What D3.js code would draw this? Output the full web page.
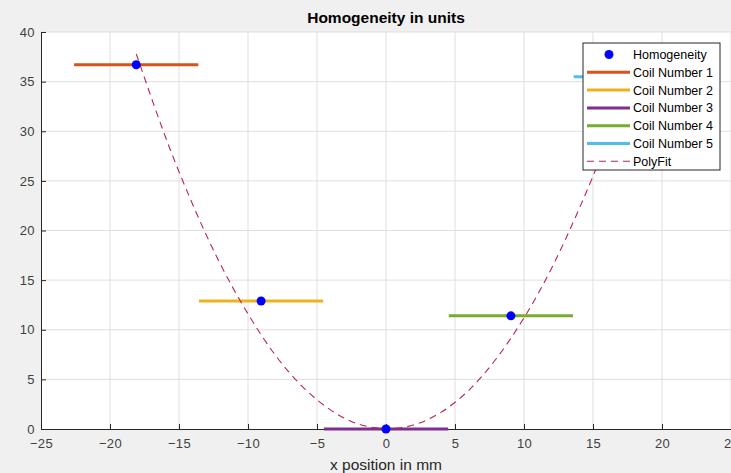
<!DOCTYPE html>
<html>
<head>
<meta charset="utf-8">
<script src="https://cdn.jsdelivr.net/npm/d3@7"></script>
<style>
  body { margin: 0; background: #f0f0f0; }
  text { font-family: "Liberation Sans", Arial, sans-serif; }
</style>
</head>
<body>
<div id="chart"></div>
<script>
// measured points (x position in mm, homogeneity in units)
var pointX = [-18.1, -9.05, 0, 9.05, 18.1];
var pointY = [36.7, 12.9, 0, 11.4, 35.5];

// coil segments, one per coil, centred on its point
var coilNames = ['Coil Number 1', 'Coil Number 2', 'Coil Number 3', 'Coil Number 4', 'Coil Number 5'];
var coilStart = [-22.6, -13.55, -4.5, 4.55, 13.6];
var coilEnd = [-13.6, -4.55, 4.5, 13.55, 22.6];
var coilColors = ['#D95319', '#EDB120', '#7E2F8E', '#77AC30', '#4DBEEE'];

// polyfit curve
var fitX = [-18.1, -16, -14, -12, -10, -8, -6, -4, -2, 0, 2, 4, 6, 8, 10, 12, 14, 16, 18.1];
var fitY = [37.8, 29.5, 22.6, 16.6, 11.6, 7.4, 4.2, 1.9, 0.5, 0.05, 0.4, 1.7, 3.9, 7.1, 11.2, 16.2, 22.2, 29.0, 37.2];

var xTicks = [-25, -20, -15, -10, -5, 0, 5, 10, 15, 20, 25];
var yTicks = [0, 5, 10, 15, 20, 25, 30, 35, 40];

var W = 731, H = 473;
var margin = {top: 32, left: 41, right: 0, bottom: 44};

var x = d3.scaleLinear().domain([-25, 25]).range([margin.left, W - margin.right]);
var y = d3.scaleLinear().domain([0, 40]).range([H - margin.bottom, margin.top]);

var svg = d3.select('#chart')
    .append('svg')
    .attr('width', W)
    .attr('height', H)
    .style('display', 'block');

svg.append('rect')
    .attr('width', W).attr('height', H)
    .attr('fill', '#f0f0f0');

// plot area
svg.append('rect')
    .attr('x', x(-25)).attr('y', y(40))
    .attr('width', x(25) - x(-25)).attr('height', y(0) - y(40))
    .attr('fill', '#ffffff');

// grid
svg.append('g')
    .selectAll('line')
    .data(xTicks.slice(1))
    .enter().append('line')
    .attr('x1', function(d){ return x(d); })
    .attr('x2', function(d){ return x(d); })
    .attr('y1', y(0)).attr('y2', y(40))
    .attr('stroke', '#dfdfdf').attr('stroke-width', 1);

svg.append('g')
    .selectAll('line')
    .data(yTicks.slice(1))
    .enter().append('line')
    .attr('x1', x(-25)).attr('x2', x(25))
    .attr('y1', function(d){ return y(d); })
    .attr('y2', function(d){ return y(d); })
    .attr('stroke', '#dfdfdf').attr('stroke-width', 1);

// axes, ticks pointing inward like matlab
var xAxis = svg.append('g')
    .attr('transform', 'translate(0,' + y(0) + ')')
    .call(d3.axisBottom(x).tickValues(xTicks).tickSize(-5).tickPadding(10));
var yAxis = svg.append('g')
    .attr('transform', 'translate(' + x(-25) + ',0)')
    .call(d3.axisLeft(y).tickValues(yTicks).tickSize(-5).tickPadding(6));

[xAxis, yAxis].forEach(function(a){
    a.select('.domain').attr('stroke', '#262626');
    a.selectAll('.tick line').attr('stroke', '#262626');
    a.selectAll('.tick text')
        .attr('fill', '#404040')
        .style('font-size', '13px')
        .style('font-family', '"Liberation Sans", Arial, sans-serif')
        .style('letter-spacing', '0.4px');
});

// coil segments
svg.append('g')
    .selectAll('line')
    .data(coilNames)
    .enter().append('line')
    .attr('x1', function(d, i){ return x(coilStart[i]); })
    .attr('x2', function(d, i){ return x(coilEnd[i]); })
    .attr('y1', function(d, i){ return y(pointY[i]); })
    .attr('y2', function(d, i){ return y(pointY[i]); })
    .attr('stroke', function(d, i){ return coilColors[i]; })
    .attr('stroke-width', 3);

// polyfit
var fitData = fitX.map(function(d, i){ return [d, fitY[i]]; });
svg.append('path')
    .datum(fitData)
    .attr('fill', 'none')
    .attr('stroke', '#B5284A')
    .attr('stroke-width', 1.1)
    .attr('stroke-dasharray', '7,5')
    .attr('d', d3.line()
        .x(function(d){ return x(d[0]); })
        .y(function(d){ return y(d[1]); })
        .curve(d3.curveNatural));

// homogeneity points
svg.append('g')
    .selectAll('circle')
    .data(pointX)
    .enter().append('circle')
    .attr('cx', function(d){ return x(d); })
    .attr('cy', function(d, i){ return y(pointY[i]); })
    .attr('r', 4.5)
    .attr('fill', '#0000ff');

// title and label
svg.append('text')
    .attr('x', x(0)).attr('y', 23)
    .attr('text-anchor', 'middle')
    .style('font-size', '15.5px')
    .style('font-weight', 'bold')
    .attr('fill', '#000')
    .text('Homogeneity in units');

svg.append('text')
    .attr('x', x(0)).attr('y', 470)
    .attr('text-anchor', 'middle')
    .style('font-size', '15.5px')
    .attr('fill', '#262626')
    .text('x position in mm');

// legend
var lg = svg.append('g').attr('transform', 'translate(583,43)');
lg.append('rect')
    .attr('width', 137).attr('height', 127)
    .attr('fill', '#ffffff')
    .attr('stroke', '#262626').attr('stroke-width', 1);

var rowH = 17.8;
var legendNames = ['Homogeneity'].concat(coilNames).concat(['PolyFit']);
var rows = lg.selectAll('g.row')
    .data(legendNames)
    .enter().append('g')
    .attr('class', 'row')
    .attr('transform', function(d, i){ return 'translate(0,' + (11.5 + i * rowH) + ')'; });

rows.each(function(d, i){
    var r = d3.select(this);
    if (i === 0) {
        r.append('circle').attr('cx', 26).attr('cy', 0).attr('r', 4.5).attr('fill', '#0000ff');
    } else if (i <= 5) {
        r.append('line').attr('x1', 4).attr('x2', 47).attr('y1', 0).attr('y2', 0)
            .attr('stroke', coilColors[i - 1]).attr('stroke-width', 3);
    } else {
        r.append('line').attr('x1', 4).attr('x2', 47).attr('y1', 0).attr('y2', 0)
            .attr('stroke', '#B5284A').attr('stroke-width', 1.1).attr('stroke-dasharray', '7,5');
    }
    r.append('text')
        .attr('x', 50).attr('y', 4.5)
        .style('font-size', '12.5px')
        .attr('fill', '#000')
        .text(d);
});
</script>
</body>
</html>
